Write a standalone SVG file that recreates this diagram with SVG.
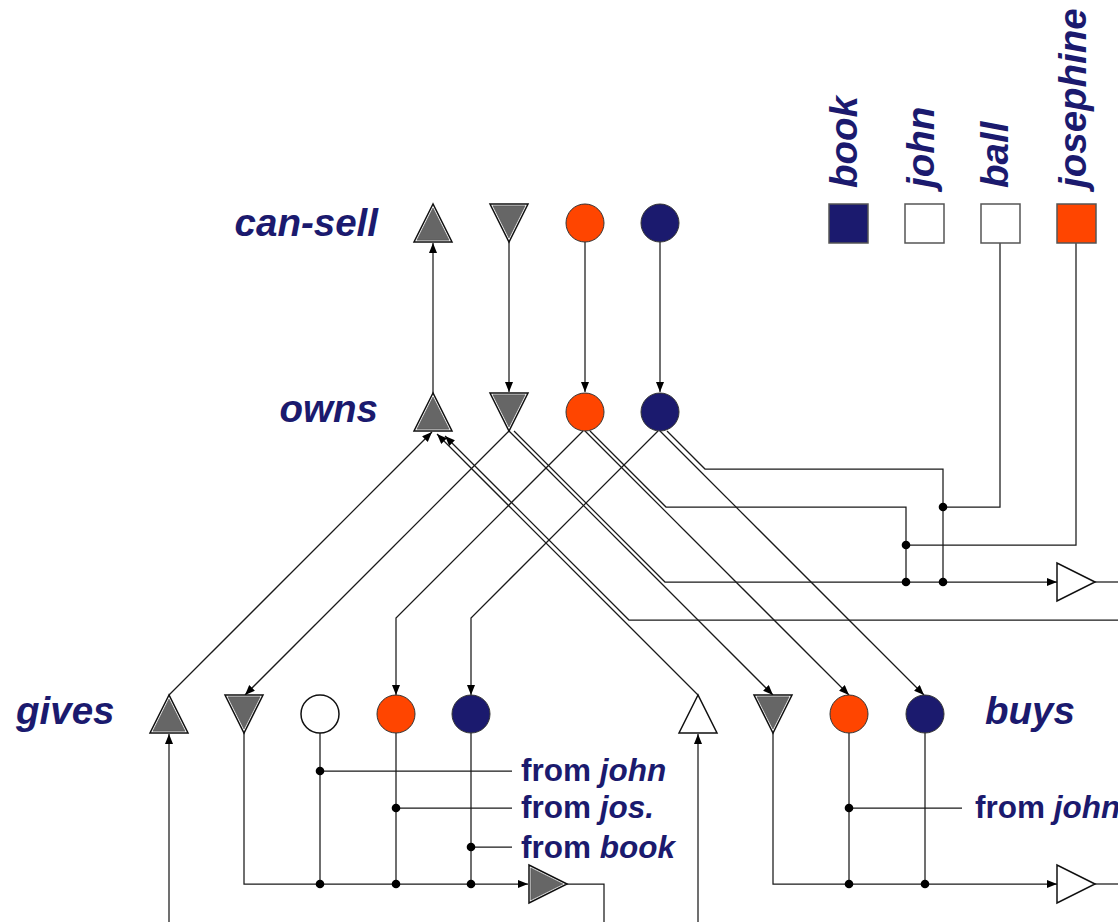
<svg xmlns="http://www.w3.org/2000/svg" width="1118" height="922" viewBox="0 0 1118 922">
<style>
  .lbl{font-family:"Liberation Sans",Arial,sans-serif;font-weight:bold;font-style:italic;font-size:38.5px;fill:#1b1a6e}
  .src{font-family:"Liberation Sans",Arial,sans-serif;font-weight:bold;font-size:31.5px;fill:#1b1a6e}
  .src tspan{font-style:italic}
  .w{fill:none;stroke:#1a1a1a;stroke-width:1.25}
  .a{marker-end:url(#ah)}
  .dot{fill:#000}
  .orange{fill:#ff4500;stroke:#333;stroke-width:1}
  .navy{fill:#1b1a6e;stroke:#333;stroke-width:1}
  .hollow{fill:#fff;stroke:#111;stroke-width:1.5}
  .sq{stroke:#555;stroke-width:1.5}
</style>
<defs>
  <marker id="ah" markerUnits="userSpaceOnUse" markerWidth="11" markerHeight="9" refX="10" refY="4" orient="auto">
    <path d="M0,0 L10,4 L0,8 z" fill="#000"/>
  </marker>
  <!-- grey triangles: dark rim, white band, grey core -->
  <g id="tu">
    <polygon points="0,-19 -19,19 19,19" fill="#fff" stroke="#111" stroke-width="1.5"/>
    <polygon points="0,-15 -16.1,17.2 16.1,17.2" fill="#666" stroke="#444" stroke-width="0.5"/>
  </g>
  <g id="td">
    <polygon points="-19,-19 19,-19 0,19" fill="#fff" stroke="#111" stroke-width="1.5"/>
    <polygon points="-16.1,-17.2 16.1,-17.2 0,15" fill="#666" stroke="#444" stroke-width="0.5"/>
  </g>
  <polygon id="twu" points="0,-19 -19,19 19,19" fill="#fff" stroke="#111" stroke-width="1.5"/>
</defs>
<rect width="1118" height="922" fill="#fff"/>

<!-- wiring -->
<g id="connectors">
  <!-- can-sell <-> owns -->
  <path class="w a" d="M433,393 V243"/>
  <path class="w a" d="M509,242 V392"/>
  <path class="w a" d="M585,242 V392"/>
  <path class="w a" d="M660,242 V392"/>
  <!-- into owns agent -->
  <path class="w a" d="M169,695 L432,432"/>
  <path class="w a" d="M698,695 L437,434"/>
  <path class="w a" d="M1118,620 H629 L445,436"/>
  <!-- out of owns -->
  <path class="w a" d="M509,431 L245,695"/>
  <path class="w a" d="M509,431 L773,695"/>
  <path class="w a" d="M514,431 L665,582 H1057"/>
  <path class="w a" d="M583,431 L396,618 V695"/>
  <path class="w a" d="M585,431 L849,695"/>
  <path class="w" d="M590,431 L666,507 H906 V582"/>
  <path class="w a" d="M658,431 L471,618 V695"/>
  <path class="w a" d="M660,431 L924,695"/>
  <path class="w" d="M667,431 L705,469 H943 V582"/>
  <!-- object lines -->
  <path class="w" d="M1000,243 V507 H943"/>
  <path class="w" d="M1076,243 V545 H906"/>
  <path class="w" d="M1095,582 H1118"/>
  <!-- gives -->
  <path class="w a" d="M169,922 V734"/>
  <path class="w a" d="M244,733 V884 H528"/>
  <path class="w" d="M320,733 V884 M320,771 H512"/>
  <path class="w" d="M396,733 V884 M396,808 H512"/>
  <path class="w" d="M471,733 V884 M471,847 H512"/>
  <path class="w" d="M567,884 H604 V922"/>
  <!-- buys -->
  <path class="w a" d="M698,922 V734"/>
  <path class="w a" d="M773,733 V884 H1057"/>
  <path class="w" d="M849,733 V884 M849,808 H962"/>
  <path class="w" d="M925,733 V884"/>
  <path class="w" d="M1095,884 H1118"/>
  <!-- junctions -->
  <circle class="dot" cx="943" cy="507" r="4.3"/>
  <circle class="dot" cx="906" cy="545" r="4.3"/>
  <circle class="dot" cx="906" cy="582" r="4.3"/>
  <circle class="dot" cx="943" cy="582" r="4.3"/>
  <circle class="dot" cx="320" cy="771" r="4.3"/>
  <circle class="dot" cx="320" cy="884" r="4.3"/>
  <circle class="dot" cx="396" cy="808" r="4.3"/>
  <circle class="dot" cx="396" cy="884" r="4.3"/>
  <circle class="dot" cx="471" cy="847" r="4.3"/>
  <circle class="dot" cx="471" cy="884" r="4.3"/>
  <circle class="dot" cx="849" cy="808" r="4.3"/>
  <circle class="dot" cx="849" cy="884" r="4.3"/>
  <circle class="dot" cx="925" cy="884" r="4.3"/>
</g>

<!-- objects -->
<g id="obj-book">
  <text class="lbl" transform="translate(857,188) rotate(-90)">book</text>
  <rect class="sq" x="829" y="204" width="39" height="39" fill="#1b1a6e"/>
</g>
<g id="obj-john">
  <text class="lbl" transform="translate(934,188) rotate(-90)">john</text>
  <rect class="sq" x="905" y="204" width="39" height="39" fill="#fff"/>
</g>
<g id="obj-ball">
  <text class="lbl" transform="translate(1008,188) rotate(-90)">ball</text>
  <rect class="sq" x="981" y="204" width="39" height="39" fill="#fff"/>
</g>
<g id="obj-josephine">
  <text class="lbl" transform="translate(1086,188) rotate(-90)">josephine</text>
  <rect class="sq" x="1057" y="204" width="39" height="39" fill="#ff4500"/>
</g>

<!-- can-sell -->
<g id="can-sell">
  <text class="lbl" x="378" y="236" text-anchor="end">can-sell</text>
  <use href="#tu" x="433" y="223"/>
  <use href="#td" x="509" y="223"/>
  <circle class="orange" cx="585" cy="223" r="19"/>
  <circle class="navy" cx="660" cy="223" r="19"/>
</g>

<!-- owns -->
<g id="owns">
  <text class="lbl" x="378" y="422" text-anchor="end">owns</text>
  <use href="#tu" x="433" y="412"/>
  <use href="#td" x="509" y="412"/>
  <circle class="orange" cx="585" cy="412" r="19"/>
  <circle class="navy" cx="660" cy="412" r="19"/>
</g>

<!-- gives -->
<g id="gives">
  <text class="lbl" x="16" y="724">gives</text>
  <use href="#tu" x="169" y="714"/>
  <use href="#td" x="244" y="714"/>
  <circle class="hollow" cx="320" cy="714" r="19"/>
  <circle class="orange" cx="396" cy="714" r="19"/>
  <circle class="navy" cx="471" cy="714" r="19"/>
</g>
<g id="gives-sources">
  <text class="src" x="521" y="781">from <tspan>john</tspan></text>
  <text class="src" x="521" y="818">from <tspan>jos.</tspan></text>
  <text class="src" x="521" y="858">from <tspan>book</tspan></text>
</g>
<g id="gives-gate">
  <use href="#tu" transform="translate(548,884) rotate(90)"/>
</g>

<!-- buys -->
<g id="buys">
  <text class="lbl" x="985" y="724">buys</text>
  <use href="#twu" x="698" y="714"/>
  <use href="#td" x="773" y="714"/>
  <circle class="orange" cx="849" cy="714" r="19"/>
  <circle class="navy" cx="925" cy="714" r="19"/>
</g>
<g id="buys-source">
  <text class="src" x="975" y="818">from <tspan>john</tspan></text>
</g>
<g id="buys-gate">
  <use href="#twu" transform="translate(1076,884) rotate(90)"/>
</g>
<g id="owns-gate">
  <use href="#twu" transform="translate(1076,582) rotate(90)"/>
</g>
</svg>
